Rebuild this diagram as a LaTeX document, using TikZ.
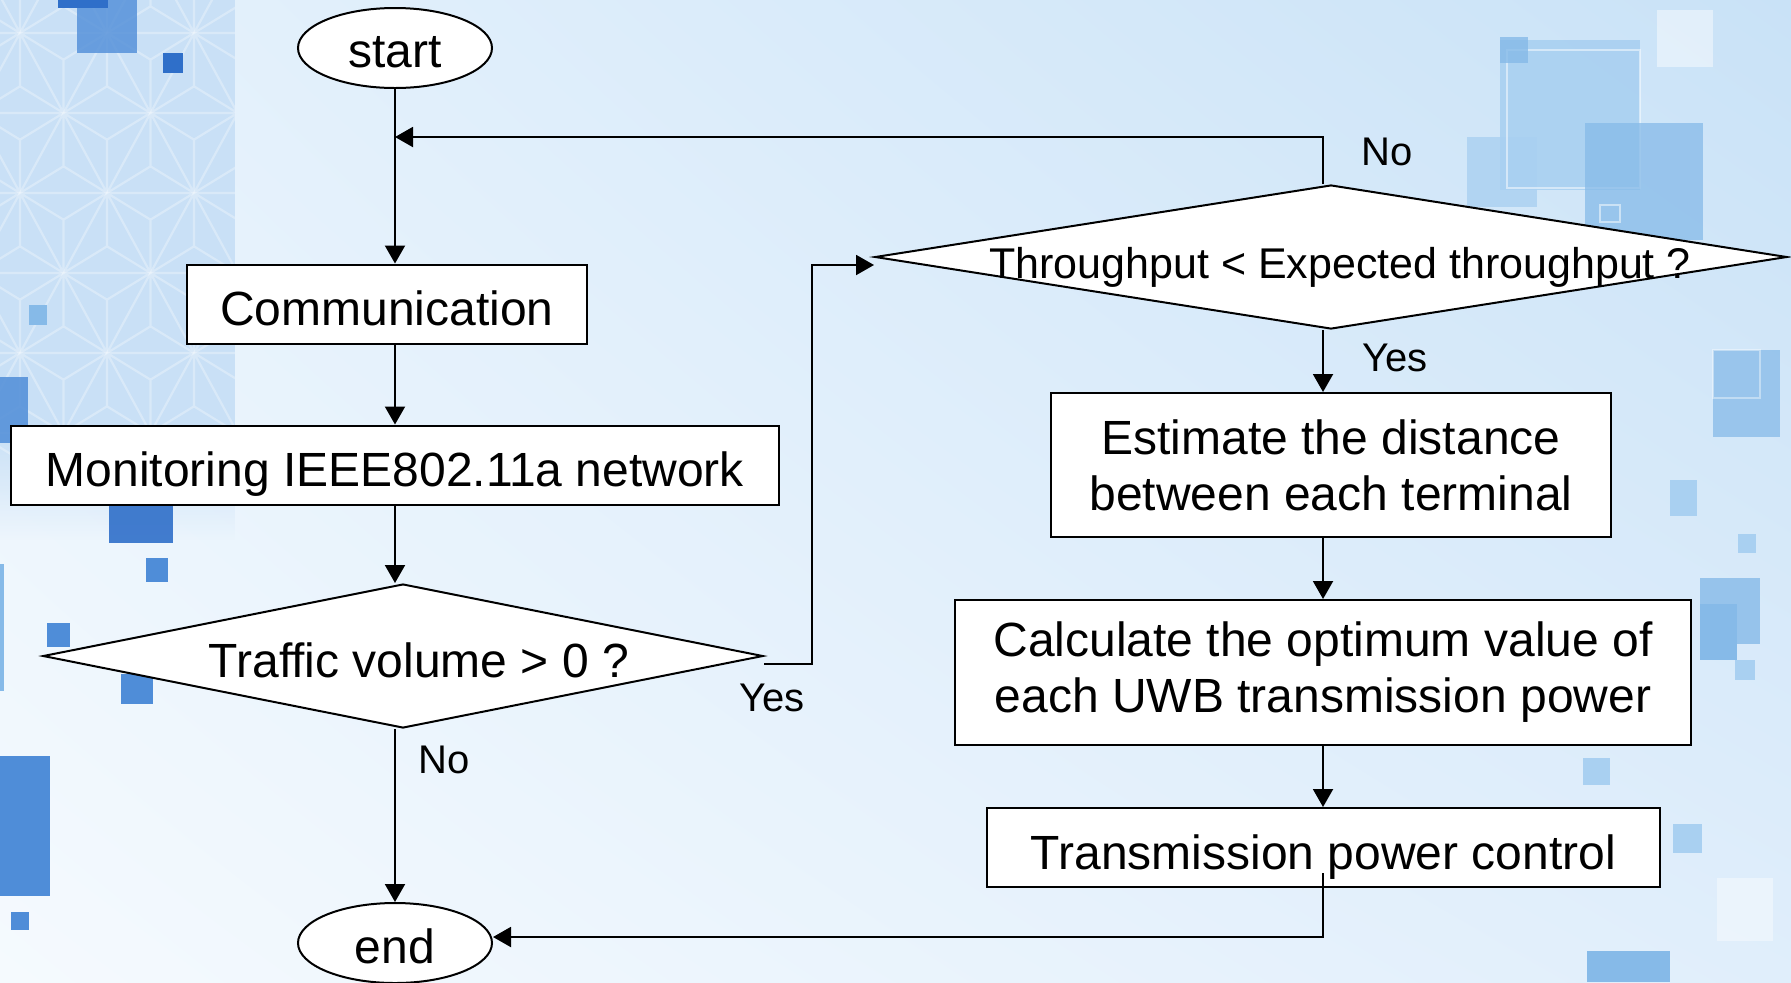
\documentclass[tikz,border=0pt]{standalone}
\usepackage{fontspec}
\setmainfont{Liberation Sans}
\usetikzlibrary{shapes.geometric,arrows.meta,calc,fadings,shadings}

\definecolor{bgUL}{HTML}{E6F2FC}
\definecolor{bgUR}{HTML}{C9E2F7}
\definecolor{bgLL}{HTML}{F5FAFE}
\definecolor{bgLR}{HTML}{E0EEFB}
\definecolor{stripc}{HTML}{C9E0F6}
\definecolor{sqD}{HTML}{2F6FC9}
\definecolor{sqM}{HTML}{4F8DD8}
\definecolor{sqL}{HTML}{86BAE8}
\definecolor{sqP}{HTML}{A9D0F1}

\newcommand\mainsz{\fontsize{24pt}{28pt}\selectfont}
\newcommand\thrsz{\fontsize{21.5pt}{25pt}\selectfont}
\newcommand\lblsz{\fontsize{20pt}{24pt}\selectfont}

\tikzfading[name=stripfade, top color=transparent!0, bottom color=transparent!100]

\tikzset{
  flowline/.style={line width=1pt, draw=black},
  arr/.style={flowline, -{Triangle[length=9pt,width=10pt]}},
  procbox/.style={rectangle, draw=black, line width=1pt, fill=white, inner sep=0pt, font=\mainsz, align=center},
  oneline/.style={text height=21.5pt, text depth=0pt},
  terminal/.style={ellipse, draw=black, line width=1pt, fill=white, inner sep=0pt,
    minimum width=97pt, minimum height=40pt, font=\mainsz, text depth=0pt},
  decision/.style={diamond, draw=black, line width=1pt, fill=white, inner sep=0pt},
  lbl/.style={font=\lblsz, inner sep=0pt},
  sq/.style={fill=#1, draw=none},
  patline/.style={draw=white, line width=1.1pt, opacity=0.3},
}

\begin{document}
\begin{tikzpicture}[x=0.5pt, y=-0.5pt]
\useasboundingbox (0,0) rectangle (1791,982);

% ---------- background ----------
\shade[upper left=bgUL, upper right=bgUR, lower left=bgLL, lower right=bgLR]
  (0,0) rectangle (1791,982);

% patterned strip on the left
\fill[stripc] (0,0) rectangle (235,430);
\fill[stripc, path fading=stripfade] (0,430) rectangle (235,540);
\begin{scope}
  \clip (0,0) rectangle (235,470);
  \foreach \r in {0,...,7}{
    \foreach \c in {-1,...,3}{
      \pgfmathsetmacro\px{20+87*\c+43.5*mod(\r+1,2)}
      \pgfmathsetmacro\py{33+80*(\r-1)}
      \draw[patline]
        (\px,\py) -- ++(87,0) (\px,\py) -- ++(43.5,80) (\px,\py) -- ++(-43.5,80)
        ({\px+43.5},{\py+26.67}) -- (\px,\py)
        ({\px+43.5},{\py+26.67}) -- ({\px+87},\py)
        ({\px+43.5},{\py+26.67}) -- ({\px+43.5},{\py+80})
        (\px,{\py+53.33}) -- (\px,\py)
        (\px,{\py+53.33}) -- ({\px-43.5},{\py+80})
        (\px,{\py+53.33}) -- ({\px+43.5},{\py+80});
    }
  }
\end{scope}

% squares, left side
\fill[sq=sqM, opacity=0.8] (77,0) rectangle (137,53);
\fill[sq=sqD] (58,0) rectangle (108,8);
\fill[sq=sqD] (163,53) rectangle (183,73);
\fill[sq=sqL] (29,305) rectangle (47,325);
\fill[sq=sqM, opacity=0.85] (0,377) rectangle (28,443);
\fill[sq=sqD, opacity=0.9] (109,495) rectangle (173,543);
\fill[sq=sqM] (146,558) rectangle (168,582);
\fill[sq=sqM] (47,623) rectangle (70,647);
\fill[sq=sqM] (121,674) rectangle (153,704);
\fill[sq=sqL] (0,564) rectangle (4,691);
\fill[sq=sqM] (0,756) rectangle (50,896);
\fill[sq=sqM] (11,912) rectangle (29,930);

% squares, right side
\fill[sq=sqP, opacity=0.8] (1467,137) rectangle (1537,207);
\fill[sq=sqP, opacity=0.9] (1500,40) rectangle (1640,190);
\draw[white, opacity=0.5, line width=0.8pt] (1507,50) rectangle (1640,188);
\fill[sq=sqL, opacity=0.8] (1500,37) rectangle (1528,63);
\fill[sq=sqL, opacity=0.75] (1585,123) rectangle (1703,240);
\draw[white, opacity=0.5, line width=0.8pt] (1600,205) rectangle (1620,222);
\fill[white, opacity=0.45] (1657,10) rectangle (1713,67);
\fill[sq=sqL, opacity=0.75] (1713,350) rectangle (1780,437);
\draw[white, opacity=0.4, line width=0.8pt] (1713,350) rectangle (1760,398);
\fill[sq=sqP] (1670,480) rectangle (1697,516);
\fill[sq=sqP] (1738,534) rectangle (1756,553);
\fill[sq=sqL, opacity=0.8] (1700,578) rectangle (1760,644);
\fill[sq=sqL] (1700,604) rectangle (1737,660);
\fill[sq=sqP] (1735,660) rectangle (1755,680);
\fill[sq=sqP] (1583,758) rectangle (1610,785);
\fill[sq=sqP] (1673,824) rectangle (1702,853);
\fill[white, opacity=0.4] (1717,878) rectangle (1773,941);
\fill[sq=sqL] (1587,951) rectangle (1670,982);

% ---------- flowchart nodes ----------
\node[terminal, text height=19.5pt] (start) at (395,48) {start};
\node[procbox, oneline, minimum width=200pt, minimum height=39.5pt] (comm) at (387,304) {Communication};
\node[procbox, oneline, minimum width=384pt, minimum height=39.5pt] (mon) at (395,465) {Monitoring IEEE802.11a network};
\node[decision, minimum width=360pt, minimum height=72pt] (traffic) at (403,656) {};
\node[font=\mainsz, inner sep=0pt] (trafficText) at (419,660) {Traffic volume > 0 ?};
\node[terminal, text height=20pt] (end) at (395,943) {end};

\node[decision, minimum width=456pt, minimum height=72pt] (thr) at (1331,257) {};
\node[font=\thrsz, inner sep=0pt, text depth=0pt] (thrText) at (1340,263) {Throughput < Expected throughput ?};
\node[procbox, minimum width=280pt, minimum height=72pt] (est) at (1331,465)
  {Estimate the distance\\between each terminal};
\node[procbox, minimum width=368pt, minimum height=72.5pt] (calc) at (1323,672.5)
  {Calculate the optimum value of\\each UWB transmission power};
\node[procbox, oneline, minimum width=336.5pt, minimum height=39.5pt] (tpc) at (1323.5,847.5)
  {Transmission power control};

% ---------- connectors ----------
\coordinate (merge) at (395,137);
\coordinate (yesOut) at ($(traffic.east)+(0,8)$);
\coordinate (tpcOut) at ($(tpc.south -| calc.south)+(0,-15)$);

\draw[arr] (start.south) -- (start.south |- comm.north);
\draw[arr] (comm.south -| start.south) -- (mon.north -| start.south);
\draw[arr] (mon.south -| start.south) -- (traffic.north -| start.south);
\draw[arr] (traffic.south -| start.south) -- (end.north);
\draw[arr] (yesOut) -- ++(48,0) |- ($(thr.west)+(0,8)$);
\draw[arr] (thr.north -| calc.north) |- (merge);
\draw[arr] (thr.south -| calc.north) -- (est.north -| calc.north);
\draw[arr] (est.south -| calc.north) -- (calc.north);
\draw[arr] (calc.south) -- (tpc.north -| calc.south);
\draw[arr] (tpcOut) |- ($(end.east)+(0,-6)$);

% branch labels
\node[lbl] (noLeft) at (444,760) {No};
\node[lbl] (yesLeft) at (772,698) {Yes};
\node[lbl] (noRight) at (1387,152) {No};
\node[lbl] (yesRight) at (1395,358) {Yes};
\end{tikzpicture}
\end{document}
